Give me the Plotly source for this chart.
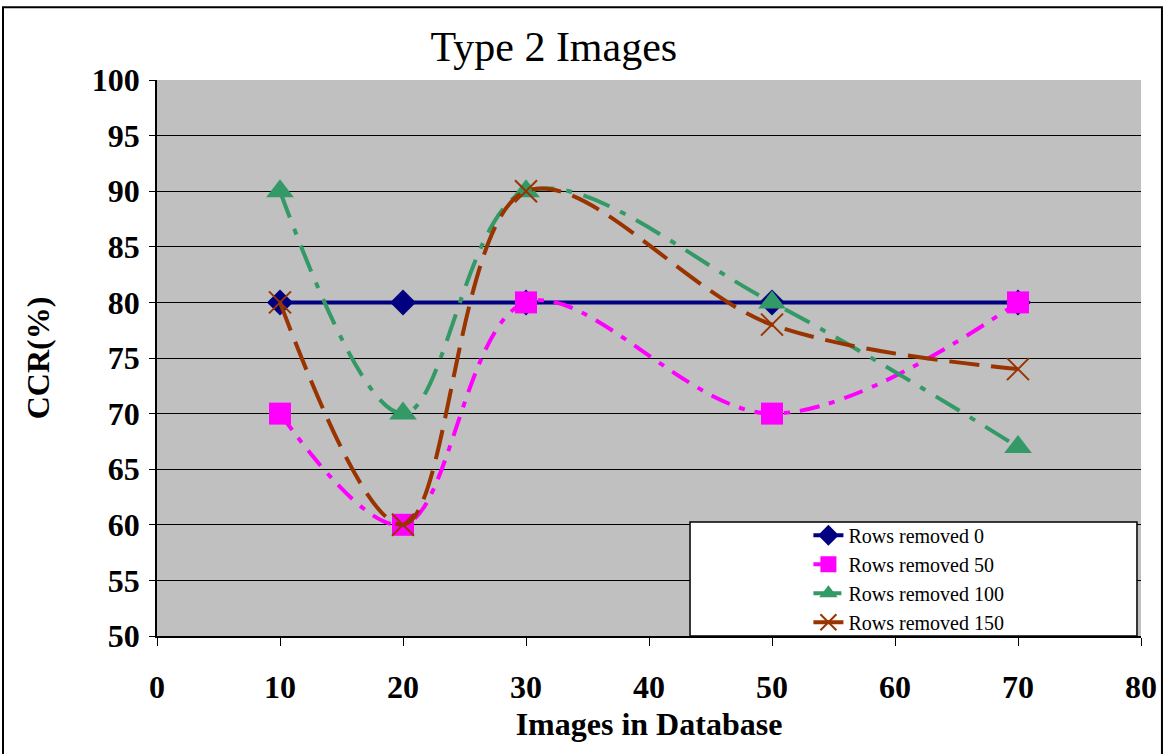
import plotly.graph_objects as go

images = [10, 20, 30, 50, 70]
rows0 = [80, 80, 80, 80, 80]
rows50 = [70, 60, 80, 70, 80]
rows100 = [90, 70, 90, 80, 67]
rows150 = [80, 60, 90, 78, 74]
x_ticks = [0, 10, 20, 30, 40, 50, 60, 70, 80]
y_ticks = [50, 55, 60, 65, 70, 75, 80, 85, 90, 95, 100]

SERIF = "Liberation Serif, Times New Roman, serif"

fig = go.Figure()
fig.add_trace(go.Scatter(
    x=images, y=rows0, name="Rows removed 0", mode="lines+markers",
    line=dict(color="#000080", width=4, shape="spline", smoothing=1),
    marker=dict(symbol="diamond", size=20, color="#000080")))
fig.add_trace(go.Scatter(
    x=images, y=rows50, name="Rows removed 50", mode="lines+markers",
    line=dict(color="#FF00FF", width=4, shape="spline", smoothing=1, dash="20px,10px,6px,10px"),
    marker=dict(symbol="square", size=22, color="#FF00FF")))
fig.add_trace(go.Scatter(
    x=images, y=rows100, name="Rows removed 100", mode="lines+markers",
    line=dict(color="#339966", width=4, shape="spline", smoothing=1, dash="28px,12px,6px,12px"),
    marker=dict(symbol="triangle-up", size=24, color="#339966")))
fig.add_trace(go.Scatter(
    x=images, y=rows150, name="Rows removed 150", mode="lines+markers",
    line=dict(color="#993300", width=4, shape="spline", smoothing=1, dash="30px,12px"),
    marker=dict(symbol="x-thin", size=22, line=dict(color="#993300", width=2), color="#993300")))

# outer chart border
fig.add_shape(type="rect", xref="paper", yref="paper",
              x0=-0.1565, x1=1.0213, y0=-0.22, y1=1.131,
              line=dict(color="black", width=2), fillcolor="rgba(0,0,0,0)", layer="below")
# legend box
fig.add_shape(type="rect", xref="paper", yref="paper",
              x0=0.5417, x1=0.9959, y0=0.0, y1=0.205,
              line=dict(color="black", width=1.5), fillcolor="white", layer="above")

fig.update_layout(
    width=1166, height=754,
    margin=dict(l=157, r=25, t=80, b=118, autoexpand=False),
    paper_bgcolor="white", plot_bgcolor="#C0C0C0",
    title=dict(text="Type 2 Images", x=0.475, xanchor="center", y=0.938, yanchor="middle",
               automargin=False,
               font=dict(family=SERIF, size=42, color="black")),
    font=dict(family=SERIF, color="black"),
    showlegend=True,
    legend=dict(x=0.662, y=0.103, xanchor="left", yanchor="middle",
                bgcolor="rgba(0,0,0,0)", borderwidth=0,
                font=dict(family=SERIF, size=20, color="black"),
                tracegroupgap=0),
    xaxis=dict(range=[0, 80], tickvals=x_ticks, showgrid=False, zeroline=False,
               automargin=False,
               showline=True, linecolor="black", linewidth=1.5,
               ticks="outside", ticklen=8, tickcolor="black",
               tickfont=dict(family=SERIF, size=32, color="black", weight="bold"),
               ticklabelstandoff=14,
               title=dict(text="<b>Images in Database</b>", standoff=8,
                          font=dict(family=SERIF, size=32, color="black"))),
    yaxis=dict(range=[50, 100], tickvals=y_ticks, showgrid=True, gridcolor="black", gridwidth=1,
               automargin=False,
               zeroline=False, showline=True, linecolor="black", linewidth=1.5,
               ticks="outside", ticklen=6, tickcolor="black",
               tickfont=dict(family=SERIF, size=32, color="black", weight="bold"),
               ticklabelstandoff=3,
               title=dict(text="<b>CCR(%)</b>", standoff=33,
                          font=dict(family=SERIF, size=32, color="black"))),
)

fig.write_html("out.html", config={"displayModeBar": False},
               post_script="document.body.style.margin='0';")
